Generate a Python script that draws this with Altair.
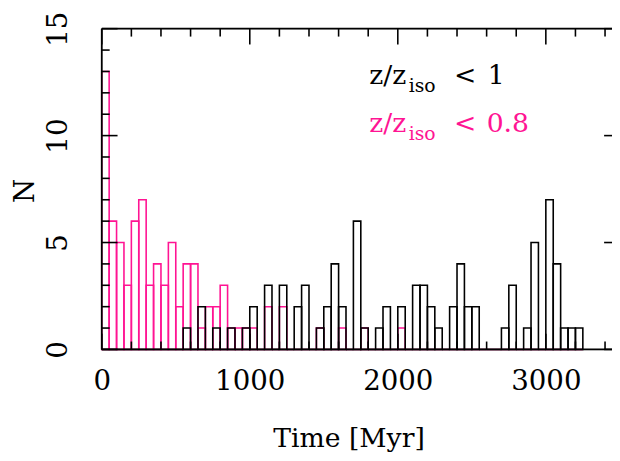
import altair as alt
import pandas as pd

# ---------------- data ----------------
bin_width = 50  # Myr
# counts per 50 Myr bin, starting at 0 Myr
pink_counts = [13, 6, 5, 3, 6, 7, 3, 4, 3, 5, 2, 4, 4, 1, 2, 2, 3, 1, 1, 1,
               1, 0, 2, 0, 2, 0, 0, 0, 0, 1, 0, 0, 1, 0, 0, 1, 0, 0, 0, 0,
               1, 0, 0, 0, 0, 0, 0, 0, 0, 0, 0, 0, 0, 0, 0, 0, 0, 0, 0, 0,
               0, 0, 0, 0, 0]
black_counts = [0, 0, 0, 0, 0, 0, 0, 0, 0, 0, 0, 1, 0, 2, 0, 1, 0, 1, 0, 1,
                2, 0, 3, 0, 3, 0, 2, 3, 0, 1, 2, 4, 2, 0, 6, 1, 0, 1, 2, 0,
                2, 0, 3, 3, 2, 1, 0, 2, 4, 2, 2, 0, 0, 0, 1, 3, 0, 1, 5, 0,
                7, 4, 1, 1, 1]

x_major = [0, 1000, 2000, 3000]
x_minor = [200, 400, 600, 800, 1200, 1400, 1600, 1800, 2200, 2400, 2600,
           2800, 3200, 3400]
y_major = [0, 5, 10, 15]
y_minor = [1, 2, 3, 4, 6, 7, 8, 9, 11, 12, 13, 14]

PINK = "#ff1493"
FONT = "DejaVu Serif"

W, H = 517, 325
XMAX = 3447
x_scale = alt.Scale(domain=[0, XMAX], nice=False, zero=False)
y_scale = alt.Scale(domain=[0, 15], nice=False)


def hist_df(counts):
    return pd.DataFrame({
        "start": [i * bin_width for i in range(len(counts))],
        "end": [(i + 1) * bin_width for i in range(len(counts))],
        "n": counts,
    })


pink = alt.Chart(hist_df(pink_counts)).mark_rect(
    fillOpacity=0, stroke=PINK, strokeWidth=1.6
).encode(
    x=alt.X("start:Q", scale=x_scale,
            axis=alt.Axis(values=x_major, format="d", ticks=False, tickSize=0,
                          domain=False, grid=False, labelFont=FONT,
                          labelFontSize=28, labelColor="black",
                          labelFlush=False, labelAlign="center",
                          labelBaseline="alphabetic", labelPadding=41,
                          title="Time [Myr]", titleFont=FONT, titleFontSize=27,
                          titleFontWeight="normal", titleColor="black",
                          titleX=250, titleY=98, titleBaseline="alphabetic",
                          titleAlign="center")),
    x2="end:Q",
    y=alt.Y("n:Q", scale=y_scale,
            axis=alt.Axis(values=y_major, ticks=False, tickSize=0, domain=False,
                          grid=False, labelFont=FONT, labelFontSize=28,
                          labelColor="black", labelAngle=270, labelFlush=False,
                          labelAlign="center", labelBaseline="alphabetic",
                          labelPadding=36,
                          title="N", titleFont=FONT, titleFontSize=28,
                          titleFontWeight="normal", titleColor="black",
                          titleAngle=270, titleX=-69, titleY=164,
                          titleAlign="center", titleBaseline="alphabetic")),
    y2=alt.datum(0),
)

black = alt.Chart(hist_df(black_counts)).mark_rect(
    fillOpacity=0, stroke="black", strokeWidth=1.6
).encode(
    x=alt.X("start:Q", scale=x_scale),
    x2="end:Q",
    y=alt.Y("n:Q", scale=y_scale),
    y2=alt.datum(0),
)

# frame (left, top, bottom) ------------------------------------------------
frame_df = pd.DataFrame({"k": [0]})
left_line = alt.Chart(frame_df).mark_rule(color="black", strokeWidth=1.8).encode(
    x=alt.value(0), y=alt.value(0), y2=alt.value(H))
top_line = alt.Chart(frame_df).mark_rule(color="black", strokeWidth=1.8).encode(
    x=alt.value(0), x2=alt.value(W), y=alt.value(0))
bottom_line = alt.Chart(frame_df).mark_rule(color="black", strokeWidth=1.8).encode(
    x=alt.value(0), x2=alt.value(W), y=alt.value(H))

# inward ticks ---------------------------------------------------------------
xmaj = pd.DataFrame({"t": x_major})
xmin = pd.DataFrame({"t": x_minor})
ymaj = pd.DataFrame({"v": y_major})
ymin = pd.DataFrame({"v": y_minor})
tick_style = dict(color="black", strokeWidth=1.6)


def xticks(df, length):
    top = alt.Chart(df).mark_rule(**tick_style).encode(
        x=alt.X("t:Q", scale=x_scale), y=alt.value(0), y2=alt.value(length))
    bot = alt.Chart(df).mark_rule(**tick_style).encode(
        x=alt.X("t:Q", scale=x_scale), y=alt.value(H - length), y2=alt.value(H))
    return [top, bot]


def yticks(df, length):
    left = alt.Chart(df).mark_rule(**tick_style).encode(
        y=alt.Y("v:Q", scale=y_scale), x=alt.value(0), x2=alt.value(length))
    return [left]


right_stub = alt.Chart(ymaj).mark_rule(**tick_style).encode(
    y=alt.Y("v:Q", scale=y_scale), x=alt.value(W - 8), x2=alt.value(W))

ticks = xticks(xmaj, 16) + xticks(xmin, 8) + yticks(ymaj, 16) + yticks(ymin, 8) + [right_stub]

# legend text ---------------------------------------------------------------
def label(text, x, y, size, color, align="left"):
    return alt.Chart(frame_df).mark_text(
        text=text, font=FONT, fontSize=size, color=color, align=align,
        baseline="alphabetic"
    ).encode(x=alt.value(x), y=alt.value(y))


LX = 271
legend = [
    label("z/z", LX, 56, 27, "black"),
    label("iso", LX + 40, 64, 19, "black"),
    label("<", LX + 86, 56, 27, "black"),
    label("1", LX + 120, 56, 27, "black"),
    label("z/z", LX, 105, 27, PINK),
    label("iso", LX + 40, 113, 19, PINK),
    label("<", LX + 86, 105, 27, PINK),
    label("0.8", LX + 119, 105, 27, PINK),
]

chart = alt.layer(pink, black, *ticks, left_line, top_line, bottom_line, *legend).properties(
    width=W, height=H,
    autosize=alt.AutoSizeParams(type="none"),
    padding={"left": 95, "top": 18, "right": 0, "bottom": 104},
).configure_view(stroke=None).configure(background="white")

chart.save("out.html", embed_options={"renderer": "svg", "actions": False})
